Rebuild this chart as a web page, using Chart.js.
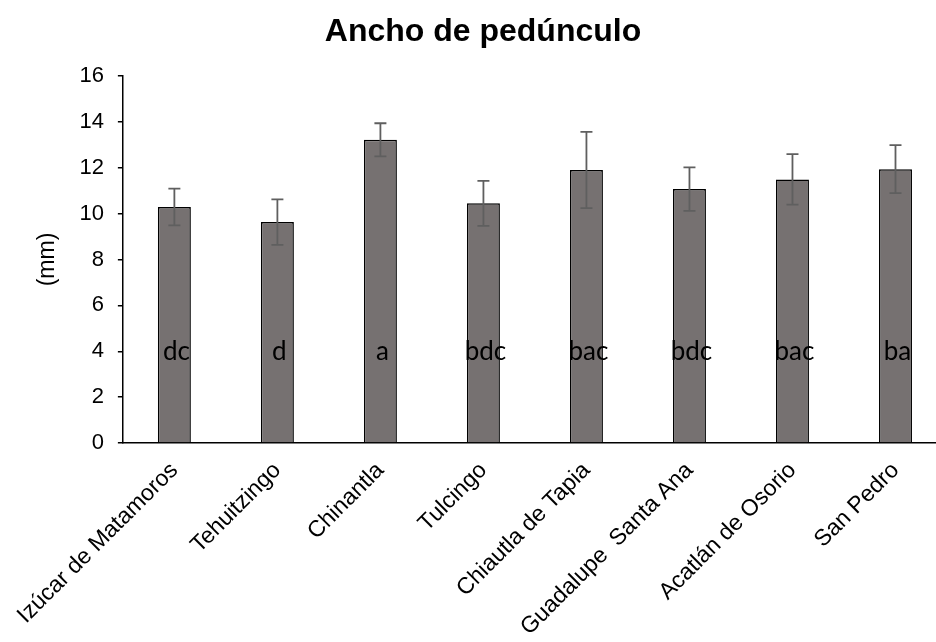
<!DOCTYPE html>
<html>
<head>
<meta charset="utf-8">
<script src="https://cdn.jsdelivr.net/npm/chart.js@4.4.1/dist/chart.umd.min.js"></script>
<style>
  html, body { margin: 0; padding: 0; background: #fff; overflow: hidden; }
  #wrap { width: 966px; height: 642px; position: relative; }
</style>
</head>
<body>
<div id="wrap"><canvas id="c"></canvas></div>
<script>
// Peduncle width by locality (mm), with standard deviation and mean-separation letters
const chartTitle = "Ancho de pedúnculo";
const localities = ["Izúcar de Matamoros", "Tehuitzingo", "Chinantla", "Tulcingo",
  "Chiautla de Tapia", "Guadalupe  Santa Ana", "Acatlán de Osorio", "San Pedro"];
const meanWidth = [10.29, 9.63, 13.22, 10.45, 11.90, 11.07, 11.49, 11.94];
const stdDev = [0.80, 0.99, 0.72, 0.98, 1.66, 0.95, 1.10, 1.05];
const groupLetters = ["dc", "d", "a", "bdc", "bac", "bdc", "bac", "ba"];
const yTicks = [0, 2, 4, 6, 8, 10, 12, 14, 16];

const LETTER_LEVEL = 4; // height (mm) at which the group letters sit

// Title centred on the whole canvas (the built-in one centres on the padded box)
const canvasTitle = {
  id: 'canvasTitle',
  afterDraw(chart) {
    const ctx = chart.ctx;
    ctx.save();
    ctx.fillStyle = '#000';
    ctx.font = 'bold 32px "Liberation Sans", Arial, sans-serif';
    ctx.textAlign = 'center';
    ctx.textBaseline = 'alphabetic';
    ctx.fillText(chartTitle, chart.width / 2, 41);
    ctx.restore();
  }
};

const errorBars = {
  id: 'errorBars',
  afterDatasetsDraw(chart) {
    const ctx = chart.ctx;
    const meta = chart.getDatasetMeta(0);
    const y = chart.scales.y;
    ctx.save();
    ctx.strokeStyle = '#5f5f5f';
    ctx.lineWidth = 1.8;
    meta.data.forEach((bar, i) => {
      const x = bar.x;
      const top = y.getPixelForValue(meanWidth[i] + stdDev[i]);
      const bot = y.getPixelForValue(meanWidth[i] - stdDev[i]);
      const cap = 6;
      ctx.beginPath();
      ctx.moveTo(x, top); ctx.lineTo(x, bot);
      ctx.moveTo(x - cap, top); ctx.lineTo(x + cap, top);
      ctx.moveTo(x - cap, bot); ctx.lineTo(x + cap, bot);
      ctx.stroke();
    });
    ctx.fillStyle = '#000';
    ctx.font = '26px Lato, "Open Sans", sans-serif';
    ctx.textAlign = 'center';
    ctx.textBaseline = 'middle';
    const ly = y.getPixelForValue(LETTER_LEVEL);
    meta.data.forEach((bar, i) => {
      ctx.fillText(groupLetters[i], bar.x + 2, ly);
    });
    ctx.restore();
  }
};

new Chart(document.getElementById('c'), {
  type: 'bar',
  data: {
    labels: localities,
    datasets: [{
      data: meanWidth,
      backgroundColor: '#767171',
      borderColor: '#000000',
      borderWidth: 1.5,
      categoryPercentage: 1.0,
      barPercentage: 0.32
    }]
  },
  options: {
    responsive: true,
    maintainAspectRatio: false,
    animation: false,
    layout: { padding: { left: 0, right: 19, top: 76, bottom: 0 } },
    plugins: {
      legend: { display: false },
      tooltip: { enabled: false },
      title: { display: false }
    },
    scales: {
      x: {
        grid: { display: true, drawOnChartArea: false, drawTicks: false, color: '#000' },
        border: { display: true, color: '#000', width: 1.5 },
        ticks: {
          autoSkip: false,
          minRotation: 45,
          maxRotation: 45,
          padding: 14,
          color: '#000',
          font: { family: '"Liberation Sans", Arial, sans-serif', size: 23 }
        },
        afterFit(scale) { scale.height = 199; }
      },
      y: {
        min: 0,
        max: 16,
        afterBuildTicks(scale) { scale.ticks = yTicks.map(v => ({ value: v })); },
        grid: { display: true, drawOnChartArea: false, drawTicks: true, tickLength: 5, color: '#000', lineWidth: 1.5 },
        border: { display: true, color: '#000', width: 1.5 },
        ticks: {
          padding: 14,
          color: '#000',
          font: { family: '"Liberation Sans", Arial, sans-serif', size: 22 }
        },
        title: {
          display: true,
          text: '(mm)',
          color: '#000',
          padding: { top: 33, bottom: 0 },
          font: { family: '"Liberation Sans", Arial, sans-serif', size: 23 }
        },
        afterFit(scale) { scale.width = 122; }
      }
    }
  },
  plugins: [errorBars, canvasTitle]
});
</script>
</body>
</html>
